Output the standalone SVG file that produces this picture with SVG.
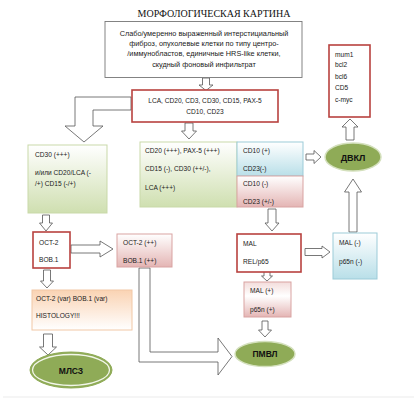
<svg xmlns="http://www.w3.org/2000/svg" width="417" height="400" viewBox="0 0 417 400">
<defs>
<linearGradient id="gGreen" x1="0" y1="0" x2="0" y2="1"><stop offset="0" stop-color="#ffffff"/><stop offset="1" stop-color="#cfdfb0"/></linearGradient>
<linearGradient id="gBlue" x1="0" y1="0" x2="0" y2="1"><stop offset="0" stop-color="#ffffff"/><stop offset="1" stop-color="#b9dfe8"/></linearGradient>
<linearGradient id="gPink" x1="0" y1="0" x2="0" y2="1"><stop offset="0" stop-color="#ffffff"/><stop offset="1" stop-color="#e4b5b4"/></linearGradient>
<linearGradient id="gPink2" x1="0" y1="0" x2="0" y2="1"><stop offset="0" stop-color="#f3dcdb"/><stop offset="0.4" stop-color="#ffffff"/><stop offset="1" stop-color="#e4b5b4"/></linearGradient>
<linearGradient id="gPeach" x1="0" y1="0" x2="0" y2="1"><stop offset="0" stop-color="#fad3b3"/><stop offset="1" stop-color="#ffffff"/></linearGradient>
</defs>
<style>
.t{font-family:"Liberation Sans",Arial,sans-serif;font-size:6.6px;fill:#1a1a1a}
.tc{text-anchor:middle}
.tb{font-size:7.3px}
.title{font-family:"Liberation Serif","Times New Roman",serif;font-size:10px;fill:#111;text-anchor:middle}
.el{font-family:"Liberation Sans",Arial,sans-serif;font-weight:bold;font-size:8.5px;fill:#111;text-anchor:middle}
.red{fill:#fff;stroke:#b8423f;stroke-width:1.6}
.gray{fill:#fff;stroke:#777;stroke-width:0.9}
.lg{fill:url(#gGreen);stroke:#c9d9a9;stroke-width:1}
.lb{fill:url(#gBlue);stroke:#9ccbd8;stroke-width:1}
.lp{fill:url(#gPink);stroke:#d9a3a2;stroke-width:1}
.ov{fill:#8fab57;stroke:#d4e0bd;stroke-width:1.5}
.arr{fill:#fff;stroke:#555;stroke-width:0.8;stroke-linejoin:miter}
</style>
<rect width="417" height="400" fill="#fff"/>
<line x1="3" y1="397" x2="414" y2="397" stroke="#ececec" stroke-width="1.2"/>

<text class="title" x="214" y="17">МОРФОЛОГИЧЕСКАЯ КАРТИНА</text>

<g id="connectors">
<polygon class="arr" points="202.5,78 209.5,78 209.5,85 213,85 206,90.5 199,85 202.5,85"/>
<polygon class="arr" points="185,123 193,123 193,131 196.5,131 189,139 181.5,131 185,131"/>
<polygon class="arr" points="131,97 75,97 75,126 65,126 84,142 103,126 93,126 93,110 131,110"/>
<polygon class="arr" points="42.5,215 49.5,215 49.5,223 52.5,223 46,231 39.5,223 42.5,223"/>
<polygon class="arr" points="71,245 100,245 100,241 113,249 100,257 100,253 71,253"/>
<polygon class="arr" points="43.5,270 50.5,270 50.5,281 53.5,281 47,288 40.5,281 43.5,281"/>
<polygon class="arr" points="43.5,334 52.5,334 52.5,347 56.5,347 48,355 39.5,347 43.5,347"/>
<polygon class="arr" points="139,268 139,362 218,362 218,375 232,356.5 218,338 218,352 150,352 150,268"/>
<polygon class="arr" points="306,154 314,154 314,150.5 321,157 314,163.5 314,160 306,160"/>
<polygon class="arr" points="346,140 354,140 354,127 358,127 350,119 342,127 346,127"/>
<polygon class="arr" points="349,232 357,232 357,192 361.5,192 353,179 344.5,192 349,192"/>
<polygon class="arr" points="268,209 276,209 276,223 279,223 272,231 265,223 268,223"/>
<polygon class="arr" points="305,248.5 322,248.5 322,246 330,252 322,258 322,255.5 305,255.5"/>
<polygon class="arr" points="264,271 270,271 270,276 272.5,276 267,281 261.5,276 264,276"/>
<polygon class="arr" points="262,321 268,321 268,330 271.5,330 265,337 258.5,330 262,330"/>
</g>

<g id="morph">
<rect class="gray" x="105" y="21.5" width="197" height="56"/>
<text class="t tc tb" x="204" y="35.5">Слабо/умеренно выраженный интерстициальный</text>
<text class="t tc tb" x="204" y="45.5">фиброз, опухолевые клетки по типу центро-</text>
<text class="t tc tb" x="204" y="55.5">/иммунобластов, единичные HRS-like клетки,</text>
<text class="t tc tb" x="204" y="66.5">скудный фоновый инфильтрат</text>
</g>

<g id="lca">
<rect class="red" x="132" y="90" width="146" height="32"/>
<text class="t tc" x="205" y="102.5">LCA, CD20, CD3, CD30, CD15, PAX-5</text>
<text class="t tc" x="205" y="113.5">CD10, CD23</text>
</g>

<g id="cd30">
<rect class="lg" x="28" y="145" width="79" height="68"/>
<text class="t" x="35" y="156.5">CD30 (+++)</text>
<text class="t" x="35" y="175">и/или CD20/LCA (-</text>
<text class="t" x="35" y="185.5">/+) CD15 (-/+)</text>
</g>

<g id="cd20">
<rect class="lg" x="140" y="142" width="97" height="65"/>
<text class="t" x="145" y="152.5">CD20 (+++), PAX-5 (+++)</text>
<text class="t" x="145" y="170.5">CD15 (-), CD30 (++/-),</text>
<text class="t" x="145" y="189.5">LCA (+++)</text>
</g>

<g id="cd10pos">
<rect class="lb" x="237" y="142" width="66" height="34"/>
<text class="t" x="243" y="152.5">CD10 (+)</text>
<text class="t" x="243" y="170.5">CD23(-)</text>
</g>

<g id="cd10neg">
<rect class="lp" x="237" y="176" width="66" height="31"/>
<text class="t" x="243" y="185.5">CD10 (-)</text>
<text class="t" x="243" y="203.5">CD23 (+/-)</text>
</g>

<g id="mum1">
<rect class="red" x="329" y="45" width="41" height="72"/>
<text class="t" x="335" y="56.5">mum1</text>
<text class="t" x="335" y="67">bcl2</text>
<text class="t" x="335" y="78.5">bcl6</text>
<text class="t" x="335" y="89.5">CD5</text>
<text class="t" x="335" y="101.5">c-myc</text>
</g>

<g id="dvkl">
<ellipse class="ov" cx="353" cy="157" rx="28" ry="14"/>
<text class="el" x="353" y="160.5" style="font-size:9px">ДВКЛ</text>
</g>

<g id="oct2">
<rect class="red" x="33" y="232" width="37" height="36"/>
<text class="t" x="39" y="244.5">OCT-2</text>
<text class="t" x="39" y="261.5">BOB.1</text>
</g>

<g id="oct2pp">
<rect class="lp" x="117" y="234" width="55" height="33"/>
<text class="t" x="123" y="244.5">OCT-2 (++)</text>
<text class="t" x="123" y="262.5">BOB.1 (++)</text>
</g>

<g id="oct2var">
<rect x="32" y="290" width="100" height="40" fill="url(#gPeach)" stroke="#f1c8a6" stroke-width="1"/>
<text class="t" x="36" y="300.5">OCT-2 (var) BOB.1 (var)</text>
<text class="t" x="36" y="317.5">HISTOLOGY!!!</text>
</g>

<g id="mlsz">
<ellipse cx="71" cy="370" rx="41" ry="18" fill="#8fab57" stroke="#8fab57" stroke-width="1"/>
<ellipse cx="71" cy="370" rx="38.5" ry="15.5" fill="none" stroke="#f2f6ea" stroke-width="1.3"/>
<text class="el" x="71" y="373.5">МЛСЗ</text>
</g>

<g id="mal">
<rect class="red" x="237" y="234" width="64" height="38"/>
<text class="t" x="243" y="245.5">MAL</text>
<text class="t" x="243" y="263.5">REL/p65</text>
</g>

<g id="malneg">
<rect class="lb" x="333" y="233" width="44" height="46"/>
<text class="t" x="339" y="244.5">MAL (-)</text>
<text class="t" x="339" y="263.5">p65n (-)</text>
</g>

<g id="malpos">
<rect x="244" y="282" width="47" height="35" fill="url(#gPink2)" stroke="#d9a3a2" stroke-width="1"/>
<text class="t" x="250" y="292.5">MAL (+)</text>
<text class="t" x="250" y="311.5">p65n (+)</text>
</g>

<g id="pmvl">
<ellipse class="ov" cx="265" cy="354" rx="30" ry="12.5"/>
<text class="el" x="265" y="357">ПМВЛ</text>
</g>
</svg>
